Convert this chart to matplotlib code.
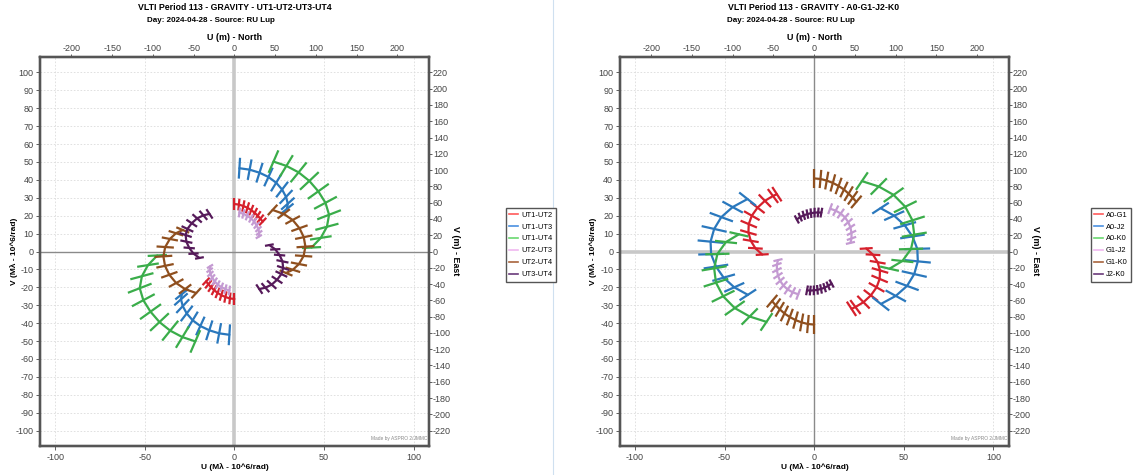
import matplotlib
matplotlib.use('Agg')
import matplotlib.pyplot as plt
import numpy as np
from matplotlib.collections import LineCollection
from matplotlib.lines import Line2D

plt.rcParams['font.family'] = ['Liberation Sans Narrow', 'Liberation Sans', 'DejaVu Sans']
plt.rcParams['axes.unicode_minus'] = False

# Wavelength used to convert M-lambda to metres (GRAVITY, K band)
wavelength_um = 2.2

# UT configuration - one half of each uv track (the other half is -u, -v)
ut_baselines = ['UT1-UT2', 'UT1-UT3', 'UT1-UT4', 'UT2-UT3', 'UT2-UT4', 'UT3-UT4']
ut_u = [
    [0.0, 2.5, 5.0, 7.3, 9.4, 11.3, 13.0, 14.5, 15.8],
    [2.8, 8.5, 14.0, 19.0, 23.3, 26.6, 28.8, 29.8, 29.3],
    [21.8, 29.0, 35.8, 41.8, 46.8, 50.8, 52.8, 51.6, 48.2, 43.0],
    [2.8, 5.0, 7.2, 9.3, 11.0, 12.4, 13.4, 13.8, 13.6],
    [21.3, 27.5, 32.5, 36.3, 38.7, 39.6, 38.6, 36.0, 32.6, 28.8],
    [19.5, 22.8, 25.2, 26.8, 27.2, 26.2, 23.8, 20.8, 17.3, 13.9],
]
ut_v = [
    [26.5, 26.2, 25.4, 24.4, 23.1, 21.6, 20.0, 18.3, 16.7],
    [46.5, 45.7, 44.0, 41.6, 38.4, 34.6, 30.5, 26.7, 23.8],
    [50.2, 47.8, 44.2, 39.4, 33.6, 27.2, 20.5, 13.8, 7.6, 2.2],
    [21.8, 21.0, 19.9, 18.5, 16.7, 14.6, 12.5, 10.4, 8.3],
    [23.2, 21.0, 17.6, 13.0, 8.0, 2.7, -2.5, -7.0, -10.2, -12.0],
    [3.6, 1.2, -2.0, -5.5, -9.2, -12.6, -15.8, -18.5, -20.2, -21.0],
]

# A0-G1-J2-K0 configuration
at_baselines = ['A0-G1', 'A0-J2', 'A0-K0', 'G1-J2', 'G1-K0', 'J2-K0']
at_u = [
    [29.0, 32.8, 35.4, 36.7, 36.5, 34.8, 31.6, 27.5, 23.0, 20.8],
    [37.0, 44.6, 50.5, 54.8, 57.5, 57.8, 55.8, 51.8, 45.5, 37.2],
    [26.6, 36.0, 44.3, 50.8, 54.8, 55.8, 54.0, 49.2, 42.0],
    [8.9, 12.0, 14.8, 17.2, 19.0, 20.2, 20.8, 20.8, 20.2],
    [0.0, 3.5, 7.0, 10.4, 13.6, 16.6, 19.2, 21.5, 23.5],
    [-9.7, -7.8, -5.8, -3.8, -1.8, 0.2, 2.2, 4.0],
]
at_v = [
    [1.7, -1.8, -6.0, -10.6, -15.3, -20.0, -24.5, -28.3, -31.0, -32.0],
    [24.2, 20.0, 14.6, 8.4, 1.5, -5.5, -12.6, -19.2, -24.8, -29.3],
    [39.3, 36.3, 31.6, 25.0, 17.4, 9.4, 1.4, -5.3, -9.6],
    [23.9, 22.8, 21.2, 19.0, 16.4, 13.5, 10.4, 7.3, 4.8],
    [40.8, 40.5, 39.6, 38.3, 36.6, 34.6, 32.3, 30.0, 27.7],
    [17.9, 19.2, 20.2, 20.9, 21.4, 21.7, 21.8, 21.7],
]

# Colours of the tracks and the (lighter) legend lines
track_colors = ['#d6202c', '#2a78bd', '#3aad4a', '#c49ad2', '#8f4f1e', '#561a5a']
legend_colors = ['#ff5a5a', '#4a90e0', '#6ad870', '#f0b8f0', '#a8643c', '#6a3a7a']

# Spectral extent of each uv point (ratio to central wavelength)
band_lo = 0.875
band_hi = 1.125

lim = 108.6
W, H = 1141, 475

fig = plt.figure(figsize=(W / 100, H / 100), dpi=100)


def draw_panel(x0, title, title_x, subtitle, sub_x, baselines, us, vs, x_zero_wide, legend_x):
    ax = fig.add_axes([x0 / W, 29 / H, 389.4 / W, 389 / H])
    ax.set_xlim(-lim, lim)
    ax.set_ylim(-lim, lim)
    # Grid lines
    ax.set_xticks([-100, -50, 0, 50, 100])
    ax.set_yticks(np.arange(-100, 101, 10))
    ax.grid(True, color='#dcdcdc', linestyle=(0, (2, 2)), linewidth=0.6)
    ax.set_axisbelow(True)
    # Zero lines (one wide and light, one thin and darker)
    if x_zero_wide:
        ax.axvline(0, color='#c8c8c8', linewidth=2.6, zorder=1)
        ax.axhline(0, color='#8a8a8a', linewidth=1.0, zorder=1)
    else:
        ax.axvline(0, color='#8a8a8a', linewidth=1.0, zorder=1)
        ax.axhline(0, color='#c8c8c8', linewidth=2.6, zorder=1)

    for u, v, c in zip(us, vs, track_colors):
        u = np.array(u)
        v = np.array(v)
        for sign in (1, -1):
            su = sign * u
            sv = sign * v
            ax.plot(su, sv, color=c, linewidth=1.6, solid_capstyle='round', zorder=3)
            segs = [[(x * band_lo, y * band_lo), (x * band_hi, y * band_hi)] for x, y in zip(su, sv)]
            ax.add_collection(LineCollection(segs, colors=c, linewidths=1.6, zorder=3))

    for s in ax.spines.values():
        s.set_color('#555555')
        s.set_linewidth(1.6)
    ax.tick_params(axis='y', labelsize=6.5, colors='#444444', length=3, width=0.6, pad=1.5)
    ax.tick_params(axis='x', labelsize=6.5, colors='#444444', length=3, width=0.6, pad=2)

    # Secondary axes in metres
    top = ax.twiny()
    top.set_xlim(-lim * wavelength_um, lim * wavelength_um)
    top.set_xticks(np.arange(-200, 201, 50))
    top.tick_params(labelsize=6.5, colors='#444444', length=2, width=0.6, pad=1)
    right = ax.twinx()
    right.set_ylim(-lim * wavelength_um, lim * wavelength_um)
    right.set_yticks(np.arange(-220, 221, 20))
    right.tick_params(labelsize=6.5, colors='#444444', length=2, width=0.6, pad=0.8)
    for a in (top, right):
        for s in a.spines.values():
            s.set_color('#555555')
            s.set_linewidth(1.6)

    ax.text(0.995, 0.012, 'Made by ASPRO 2/JMMC', transform=ax.transAxes, fontsize=3.5,
            color='#888888', ha='right', va='bottom')

    # Axis labels
    cx = (x0 + 195) / W
    fig.text(cx, 1 - 467 / H, 'U (M\u03bb - 10^6/rad)', ha='center', va='center',
             fontsize=6, fontweight='bold')
    fig.text(cx, 1 - 37 / H, 'U (m) - North', ha='center', va='center',
             fontsize=6.4, fontweight='bold')
    fig.text((x0 - 26) / W, 1 - 251 / H, 'V (M\u03bb - 10^6/rad)', ha='center', va='center',
             fontsize=6, fontweight='bold', rotation=90)
    fig.text((x0 + 416) / W, 1 - 251 / H, 'V (m) - East', ha='center', va='center',
             fontsize=6.4, fontweight='bold', rotation=270)

    # Titles
    fig.text(title_x / W, 1 - 8 / H, title, ha='center', va='center', fontsize=6.3, fontweight='bold')
    fig.text(sub_x / W, 1 - 20.5 / H, subtitle, ha='center', va='center', fontsize=5.8, fontweight='bold')

    # Legend
    handles = [Line2D([0], [0], color=c, linewidth=1.2) for c in legend_colors]
    fig.legend(handles, baselines, loc='upper left', bbox_to_anchor=(legend_x / W, 1 - 208 / H),
               fontsize=5.4, frameon=True, fancybox=False, edgecolor='#555555', framealpha=1,
               handlelength=1.2, handletextpad=0.35, borderpad=0.45, labelspacing=0.62,
               borderaxespad=0)
    return ax


draw_panel(39.7, 'VLTI Period 113 - GRAVITY - UT1-UT2-UT3-UT4', 235,
           'Day: 2024-04-28 - Source: RU Lup', 211, ut_baselines, ut_u, ut_v, True, 506)
draw_panel(619.5, 'VLTI Period 113 - GRAVITY - A0-G1-J2-K0', 814,
           'Day: 2024-04-28 - Source: RU Lup', 791, at_baselines, at_u, at_v, False, 1091)

# Thin separator between the two charts
fig.add_artist(Line2D([553 / W, 553 / W], [0, 1], color='#cfe0f0', linewidth=0.8))

plt.savefig('out.png', dpi=100)
